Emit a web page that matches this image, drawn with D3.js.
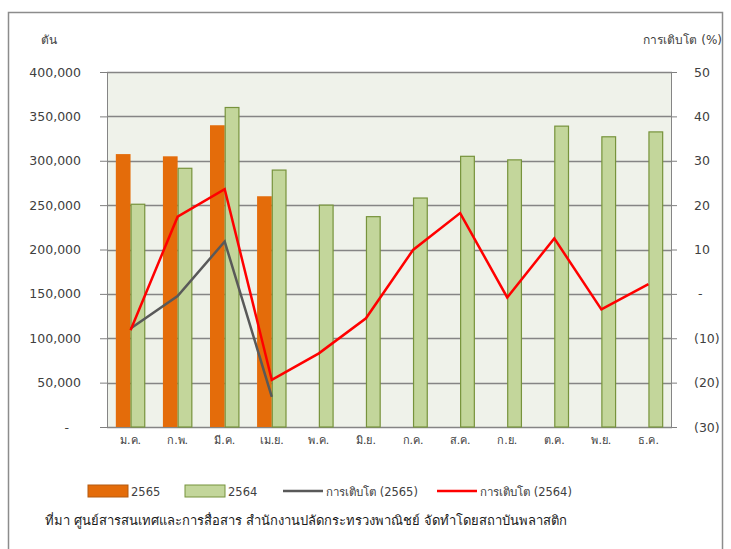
<!DOCTYPE html>
<html>
<head>
<meta charset="utf-8">
<script src="https://cdnjs.cloudflare.com/ajax/libs/d3/7.8.5/d3.min.js"></script>
<style>
body { margin:0; background:#ffffff; }
text { font-family: Tahoma, "DejaVu Sans", "Noto Sans", sans-serif; fill:#404040; }
.tick line { stroke:#7f7f7f; }
.tick text { white-space: pre; }
.domain { display:none; }
</style>
</head>
<body>
<svg id="chart"></svg>
<script>
var months = ["ม.ค.","ก.พ.","มี.ค.","เม.ย.","พ.ค.","มิ.ย.","ก.ค.","ส.ค.","ก.ย.","ต.ค.","พ.ย.","ธ.ค."];
var tons2565 = [307500, 305000, 340000, 260000];
var tons2564 = [251000, 291500, 360000, 289500, 250000, 237000, 258000, 305000, 301000, 339000, 327000, 332500];
var growth2565 = [-7.8, -0.5, 11.8, -23.2];
var growth2564 = [-8.2, 17.4, 23.6, -19.4, -13.4, -5.5, 9.9, 18.2, -0.8, 12.5, -3.5, 2.2];
var leftTicks = [0, 50000, 100000, 150000, 200000, 250000, 300000, 350000, 400000];
var rightTicks = [-30, -20, -10, 0, 10, 20, 30, 40, 50];

var screen = {width:731, height:549};
var margins = {top:72, left:107, right:59, bottom:122};
var graph = {
    width: screen.width - margins.left - margins.right,
    height: screen.height - margins.top - margins.bottom
};

var svg = d3.select("#chart")
    .attr("width", screen.width)
    .attr("height", screen.height);

// outer frame
svg.append("rect")
    .attr("x", 8.5).attr("y", 12.5)
    .attr("width", 714).attr("height", 560)
    .attr("fill", "none")
    .attr("stroke", "#8c8c8c")
    .attr("stroke-width", 1.5);

var g = svg.append("g")
    .attr("transform", "translate(" + margins.left + "," + margins.top + ")");

var xScale = d3.scaleBand()
    .domain(months)
    .range([0, graph.width]);

var xInner = d3.scaleBand()
    .domain(["2565", "2564"])
    .range([0, xScale.bandwidth()])
    .paddingOuter(0.6)
    .paddingInner(0);

var yLeft = d3.scaleLinear()
    .domain([0, 400000])
    .range([graph.height, 0]);

var yRight = d3.scaleLinear()
    .domain([-30, 50])
    .range([graph.height, 0]);

// plot background
g.append("rect")
    .attr("width", graph.width)
    .attr("height", graph.height)
    .attr("fill", "#eff2ea");

// gridlines
g.selectAll(".grid")
    .data(leftTicks)
    .enter()
    .append("line")
    .attr("x1", 0).attr("x2", graph.width)
    .attr("y1", function(d) { return Math.round(yLeft(d)) + 0.5; })
    .attr("y2", function(d) { return Math.round(yLeft(d)) + 0.5; })
    .attr("stroke", "#858585")
    .attr("stroke-width", 1.3);

// left & right axis lines
g.append("line").attr("x1", 0.5).attr("x2", 0.5).attr("y1", 0).attr("y2", graph.height)
    .attr("stroke", "#858585");
g.append("line").attr("x1", graph.width - 0.5).attr("x2", graph.width - 0.5).attr("y1", 0).attr("y2", graph.height)
    .attr("stroke", "#858585");

// bars 2565
g.selectAll(".bar65")
    .data(tons2565)
    .enter()
    .append("rect")
    .attr("x", function(d, i) { return xScale(months[i]) + xInner("2565"); })
    .attr("y", function(d) { return yLeft(d); })
    .attr("width", xInner.bandwidth())
    .attr("height", function(d) { return graph.height - yLeft(d); })
    .attr("fill", "#e46c0a");

// bars 2564
g.selectAll(".bar64")
    .data(tons2564)
    .enter()
    .append("rect")
    .attr("x", function(d, i) { return xScale(months[i]) + xInner("2564") + 0.5; })
    .attr("y", function(d) { return yLeft(d); })
    .attr("width", xInner.bandwidth() - 1)
    .attr("height", function(d) { return graph.height - yLeft(d); })
    .attr("fill", "#c3d69b")
    .attr("stroke", "#77933c")
    .attr("stroke-width", 1.2);

var lineGen = d3.line()
    .x(function(d, i) { return xScale(months[i]) + xScale.bandwidth() / 2; })
    .y(function(d) { return yRight(d); });

g.append("path")
    .datum(growth2565)
    .attr("d", lineGen)
    .attr("fill", "none")
    .attr("stroke", "#595959")
    .attr("stroke-width", 2.5);

g.append("path")
    .datum(growth2564)
    .attr("d", lineGen)
    .attr("fill", "none")
    .attr("stroke", "#ff0000")
    .attr("stroke-width", 2.5);

// axes
var leftAxis = d3.axisLeft(yLeft)
    .tickValues(leftTicks)
    .tickSize(7)
    .tickPadding(19)
    .tickFormat(function(d) { return d == 0 ? "-   " : d3.format(",")(d); });

var rightAxis = d3.axisRight(yRight)
    .tickValues(rightTicks)
    .tickSize(5)
    .tickPadding(17)
    .tickFormat(function(d) {
        if (d == 0) return " -";
        if (d < 0) return "(" + Math.abs(d) + ")";
        return d;
    });

g.append("g").call(leftAxis)
    .selectAll("text").style("font-size", "12.5px");

g.append("g")
    .attr("transform", "translate(" + graph.width + ",0)")
    .call(rightAxis)
    .selectAll("text").style("font-size", "12.5px");

g.append("g")
    .attr("transform", "translate(0," + graph.height + ")")
    .call(d3.axisBottom(xScale).tickSize(0).tickPadding(9))
    .selectAll("text").style("font-size", "11px");

// axis titles
svg.append("text").attr("x", 49).attr("y", 44)
    .attr("text-anchor", "middle")
    .style("font-size", "12px")
    .text("ตัน");

svg.append("text").attr("x", 722).attr("y", 44)
    .attr("text-anchor", "end")
    .style("font-size", "12px")
    .text("การเติบโต (%)");

// legend
var legend = svg.append("g").attr("transform", "translate(0,491)");
var legendItems = [
    {label:"2565", type:"bar", fill:"#e46c0a", stroke:"#b35a10", x:88},
    {label:"2564", type:"bar", fill:"#c3d69b", stroke:"#77933c", x:185},
    {label:"การเติบโต (2565)", type:"line", stroke:"#595959", x:283},
    {label:"การเติบโต (2564)", type:"line", stroke:"#ff0000", x:437}
];
legendItems.forEach(function(item) {
    if (item.type == "bar") {
        legend.append("rect")
            .attr("x", item.x).attr("y", -6)
            .attr("width", 40).attr("height", 12)
            .attr("fill", item.fill)
            .attr("stroke", item.stroke);
    } else {
        legend.append("line")
            .attr("x1", item.x).attr("x2", item.x + 40)
            .attr("y1", 0).attr("y2", 0)
            .attr("stroke", item.stroke)
            .attr("stroke-width", 2.5);
    }
    legend.append("text")
        .attr("x", item.x + 43).attr("y", 4.5)
        .style("font-size", "11.5px")
        .text(item.label);
});

svg.append("text").attr("x", 45).attr("y", 525)
    .style("font-size", "13px")
    .style("fill", "#1a1a1a")
    .text("ที่มา ศูนย์สารสนเทศและการสื่อสาร  สำนักงานปลัดกระทรวงพาณิชย์  จัดทำโดยสถาบันพลาสติก");
</script>
</body>
</html>
